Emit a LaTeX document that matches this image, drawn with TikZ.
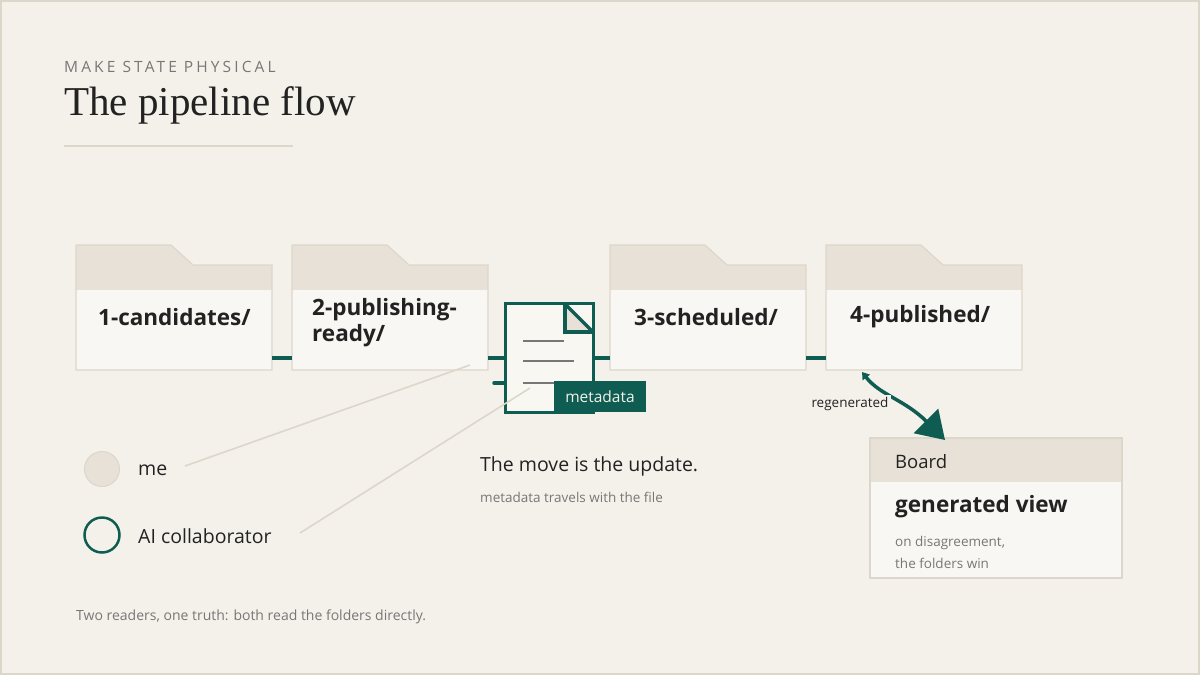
\documentclass[tikz,border=0pt]{standalone}
\usepackage{fontspec}
\setmainfont{Open Sans}
\newfontfamily\serifx{Liberation Serif}
\usetikzlibrary{arrows.meta}
\definecolor{bg}{HTML}{F4F1EA}
\definecolor{edge}{HTML}{DDD6CA}
\definecolor{tan}{HTML}{E8E1D7}
\definecolor{teal}{HTML}{0F5C52}
\definecolor{ink}{HTML}{222222}
\definecolor{mute}{HTML}{777777}
\tikzset{
 fs/.style={font=\fontsize{#1}{#1}\selectfont},
 flabel/.style={anchor=west,align=left,text=ink,inner sep=0pt,font=\bfseries\fontsize{22.5}{26}\selectfont},
 link/.style={teal,line width=3.5pt},
 gline/.style={edge,line width=1.6pt},
}
\newcommand{\folder}[3]{%
 \fill[tan] (#1,245) -- (#1+95,245) -- (#1+117,265) -- (#1+196,265) -- (#1+196,290) -- (#1,290) -- cycle;
 \fill[bg!60!white] (#1,290) rectangle (#1+196,370);
 \draw[edge,line width=1.2pt] (#1,370) -- (#1,245) -- (#1+95,245) -- (#1+117,265) -- (#1+196,265) -- (#1+196,370) -- cycle;
 \coordinate (#2w) at (#1,358); \coordinate (#2e) at (#1+196,358);
}
\begin{document}
\begin{tikzpicture}[x=1pt,y=-1pt]
\useasboundingbox (0,0) rectangle (1200,675);
\fill[bg] (0,0) rectangle (1200,675);
\draw[edge,line width=2pt] (1,1) rectangle (1199,674);
\node[anchor=west,text=mute,inner sep=0pt,font=\fontsize{15.5}{15}\selectfont\addfontfeature{LetterSpace=20}] (kick) at (64,67) {MAKE STATE PHYSICAL};
\node[anchor=west,text=ink,inner sep=0pt] (title) at (64,105) {\serifx\fontsize{41}{41}\selectfont The pipeline flow};
\draw[edge,line width=1.2pt] (64,146) -- (293,146);
% folders
\folder{76}{fa}{}
\folder{292}{fb}{}
\folder{610}{fc}{}
\folder{826}{fd}{}
\node[flabel] (la) at (98,317) {1-candidates/};
\node[flabel] (lb) at (312,323) {2-publishing-\\ready/};
\node[flabel] (lc) at (634,317) {3-scheduled/};
\node[flabel] (ld) at (850,317) {4-published/};
% doc
\coordinate (dw) at (505,358); \coordinate (de) at (594,358);
\draw[link] (fae) -- (fbw);
\draw[link] (fbe) -- (dw);
\draw[link] (de) -- (fcw);
\draw[link] (fce) -- (fdw);
\draw[teal,line width=3.5pt,line cap=round] (494,383) -- (505,383);
\node[draw=teal,line width=3.5pt,fill=bg!60!white,minimum width=88pt,minimum height=109pt,inner sep=0pt] (doc) at (549.5,358) {};
\fill[tan] (565,304) -- (593,332) -- (565,332) -- cycle;
\draw[teal,line width=3.5pt] (565,304) -- (565,332) -- (593,332);
\draw[teal,line width=3.5pt] (565,304) -- (593,332);
\foreach \y/\l in {341/41,361/51,383/31}{\draw[mute,line width=2.5pt] (523,\y) -- ++(\l,0);}
\node[fill=teal,text=bg,fs=15.5,minimum width=92pt,minimum height=31pt,inner sep=0pt] (meta) at (600,396.5) {metadata};
% legend
\node[circle,fill=tan,draw=edge,line width=1pt,minimum size=35pt,inner sep=0pt] (me) at (102,469) {};
\node[circle,draw=teal,line width=2.5pt,minimum size=35pt,inner sep=0pt] (ai) at (102,535) {};
\node[anchor=west,text=ink,fs=19.5,inner sep=0pt] (met) at (138,470) {me};
\node[anchor=west,text=ink,fs=19.5,inner sep=0pt] (ait) at (138,536) {AI collaborator};
\coordinate (g1) at (470,365); \coordinate (g2) at (530,388);
\draw[gline] (185,466) -- (g1);
\draw[gline] (300,533) -- (g2);
\node[anchor=west,text=ink,fs=19.5,inner sep=0pt] (move) at (480,466) {The move is the update.};
\node[anchor=west,text=mute,fs=13.5,inner sep=0pt] (trav) at (480,497) {metadata travels with the file};
% board
\fill[bg!60!white] (870,438) rectangle (1122,578);
\fill[tan] (870,438) rectangle (1122,482);
\draw[edge,line width=1.5pt] (870,438) rectangle (1122,578);
\node[anchor=west,text=ink,fs=18.5,inner sep=0pt] (bt) at (895,462) {Board};
\node[anchor=west,text=ink,inner sep=0pt,font=\bfseries\fontsize{22.5}{22}\selectfont] (bg) at (895,507) {generated view};
\node[anchor=west,align=left,text=mute,inner sep=0pt,font=\fontsize{13.5}{22}\selectfont] (bd) at (895,552) {on disagreement,\\the folders win};
\coordinate (rs) at (862,372); \coordinate (re) at (945,440);
\draw[teal,line width=3.5pt,{Triangle[width=9pt,length=7pt]}-{Triangle[width=34pt,length=27pt]}] (rs) .. controls (880,395) and (905,400) .. (re);
\node[fill=bg,text=ink,fs=13.5,inner sep=2pt] (reg) at (850,404) {regenerated};
\node[anchor=west,text=mute,fs=14,inner sep=0pt] (foot) at (76,617) {Two readers, one truth: both read the folders directly.};
\end{tikzpicture}
\end{document}
